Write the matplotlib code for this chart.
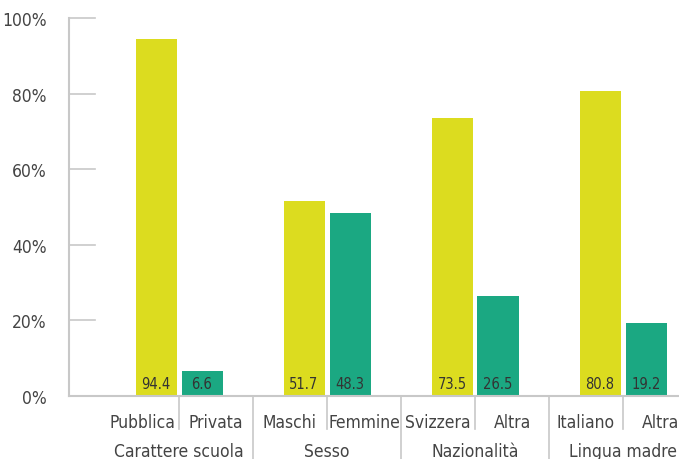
import numpy as np
import matplotlib.pyplot as plt
from matplotlib import font_manager

groups = ['Carattere scuola', 'Sesso', 'Nazionalità', 'Lingua madre']
first_labels = ['Pubblica', 'Maschi', 'Svizzera', 'Italiano']
second_labels = ['Privata', 'Femmine', 'Altra', 'Altra']
first_values = [94.4, 51.7, 73.5, 80.8]
second_values = [6.6, 48.3, 26.5, 19.2]

plt.rcParams['font.family'] = 'DejaVu Sans'
plt.rcParams['font.stretch'] = 'condensed'
fp = font_manager.FontProperties(family='DejaVu Sans', stretch='condensed')

yellow = '#dcdc1f'
green = '#1ba882'
grey = '#c8c8c8'
txt = '#444444'

fig = plt.figure(figsize=(6.79, 4.60), dpi=100)
ax = fig.add_axes([69/679, 63/460, 610/679, 378/460])

x = np.arange(len(groups))
off = 23/148
w = 41/148
ax.bar(x - off, first_values, w, color=yellow)
ax.bar(x + off, second_values, w, color=green)

for xi, a, b in zip(x, first_values, second_values):
    ax.text(xi - off, 3.4, '%.1f' % a, ha='center', va='center', fontsize=10.5, color='#333333')
    ax.text(xi + off, 3.4, '%.1f' % b, ha='center', va='center', fontsize=10.5, color='#333333')

ax.set_xlim(-110/148, 3 + 56/148)
ax.set_ylim(0, 100)
ax.set_yticks(np.arange(0, 101, 20))
ax.set_yticklabels(['%d%%' % v for v in range(0, 101, 20)], fontsize=12.5, color=txt)
ax.tick_params(axis='y', length=0, pad=16)
ax.set_xticks([])
for s in ['top', 'right']:
    ax.spines[s].set_visible(False)
for s in ['left', 'bottom']:
    ax.spines[s].set_color(grey)
    ax.spines[s].set_linewidth(1.5)

# short gridlines at the left
for v in range(20, 101, 20):
    ax.plot([-110/148, -84/148], [v, v], color=grey, lw=1.2, clip_on=False)

tr = ax.get_xaxis_transform()
ylab1 = -26/378
ylab2 = -55/378
for xi in x:
    ax.plot([xi, xi], [0, -33/378], transform=tr, color=grey, lw=1.2, clip_on=False)
    ax.text(xi - 0.25, ylab1, first_labels[xi], transform=tr, ha='center', va='center', fontsize=12.5, color=txt)
    ax.text(xi + 0.25, ylab1, second_labels[xi], transform=tr, ha='center', va='center', fontsize=12.5, color=txt)
    ax.text(xi, ylab2, groups[xi], transform=tr, ha='center', va='center', fontsize=12.5, color=txt)
    if xi > 0:
        ax.plot([xi - 0.5, xi - 0.5], [0, -63/378], transform=tr, color=grey, lw=1.2, clip_on=False)

fig.savefig('out.png', dpi=100)
